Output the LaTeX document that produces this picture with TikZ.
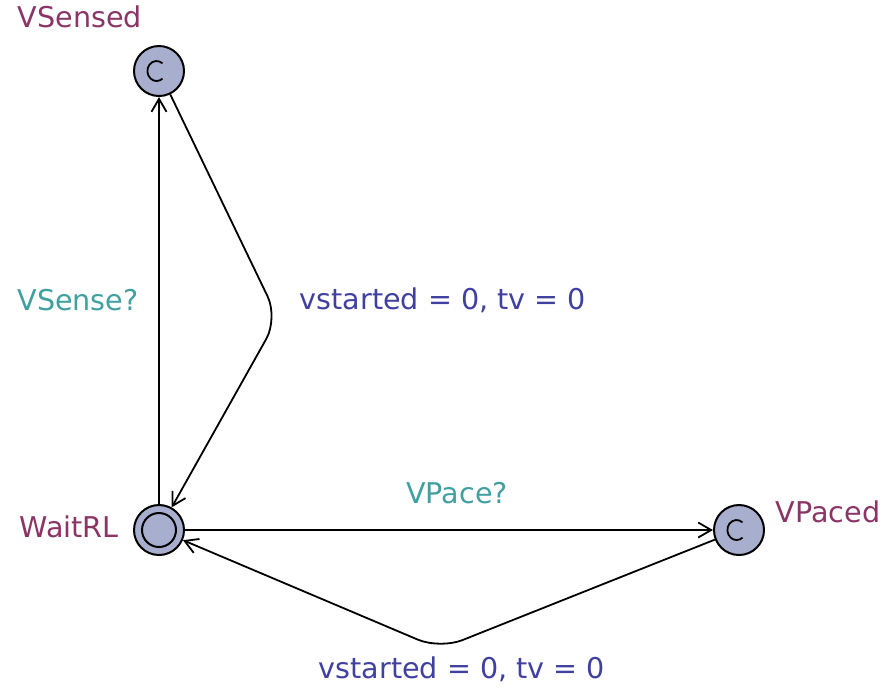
\documentclass[tikz,border=0pt]{standalone}
\usepackage{fontspec}
\setmainfont{DejaVu Sans}
\usetikzlibrary{arrows.meta}
\definecolor{locfill}{HTML}{A8AFCE}
\definecolor{locname}{HTML}{8A3566}
\definecolor{synccol}{HTML}{40A0A0}
\definecolor{assigncol}{HTML}{4040A0}
\begin{document}
\begin{tikzpicture}[x=0.5pt,y=-0.5pt,
  loc/.style={circle,draw,line width=1pt,fill=locfill,minimum size=25pt,inner sep=0pt},
  lname/.style={text=locname,font=\fontsize{14.3}{17}\selectfont,inner sep=0pt},
  sync/.style={text=synccol,font=\fontsize{14.3}{17}\selectfont,inner sep=0pt},
  assign/.style={text=assigncol,font=\fontsize{14.3}{17}\selectfont,inner sep=0pt},
  commit/.style={line width=0.9pt},
  edge/.style={line width=0.9pt,-{Straight Barb[length=6.5pt,width=7.5pt]}}]
\useasboundingbox (0,0) rectangle (892,693);
\node[loc] (vs) at (159,71) {};
\node[loc] (wr) at (159,530) {};
\draw[line width=1pt] (wr) circle (8.5pt);
\node[loc] (vp) at (739,530) {};
\draw[commit] ([xshift=-1.2pt]vs.center) ++(50:4.6pt and 5pt) arc[start angle=50,end angle=310,x radius=4.6pt,y radius=5pt];
\draw[commit] ([xshift=-1.2pt]vp.center) ++(50:4.6pt and 5pt) arc[start angle=50,end angle=310,x radius=4.6pt,y radius=5pt];
\node[lname] (lvs) at (80,17) {VSensed};
\node[lname] (lwr) at (69,527) {WaitRL};
\node[lname] (lvp) at (828,512) {VPaced};
\coordinate (b1) at (278,318);
\coordinate (b2) at (440,649);
\draw[edge] (wr) -- (vs);
\draw[edge,rounded corners=12pt] (vs) -- (b1) -- (wr);
\draw[edge] (wr) -- (vp);
\draw[edge,rounded corners=12pt] (vp) -- (b2) -- (wr);
\node[sync] (s1) at (78,300) {VSense?};
\node[assign] (a1) at (443,300) {vstarted = 0, tv = 0};
\node[sync] (s2) at (457,493) {VPace?};
\node[assign] (a2) at (462,669) {vstarted = 0, tv = 0};
\end{tikzpicture}
\end{document}
